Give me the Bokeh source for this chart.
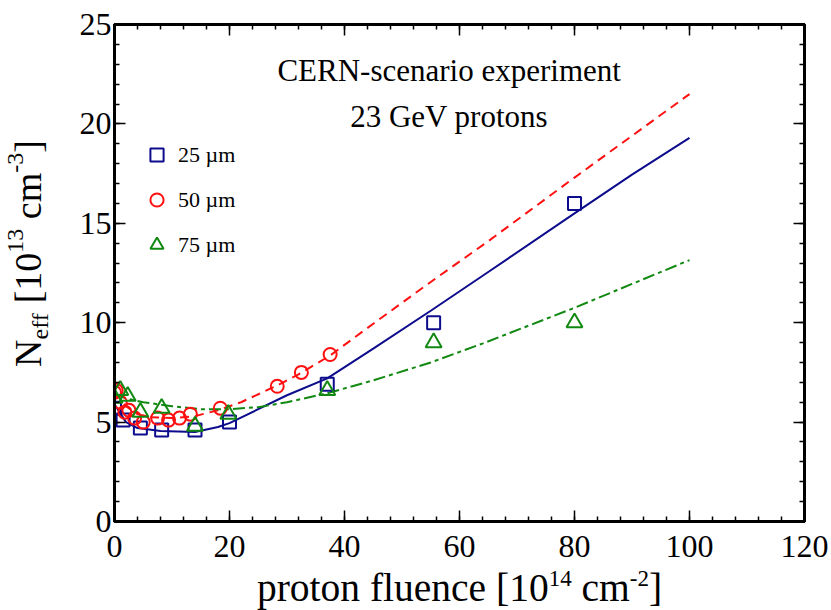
import math
from bokeh.plotting import figure
from bokeh.layouts import row, column
from bokeh.models import (Range1d, LinearAxis, FixedTicker, Label, Legend, LegendItem,
                          CustomJSTickFormatter)
from bokeh.core.properties import value
from bokeh.embed import file_html
from bokeh.resources import INLINE

# ---------------- data ----------------
fluence_25 = [0, 1.5, 4.5, 8.2, 14, 20, 37, 55.5, 80]
neff_25 = [5.7, 5.1, 4.7, 4.6, 4.6, 5.0, 6.9, 10.0, 16.0]

fluence_50 = [0, 0.3, 1, 1.8, 2.5, 3.5, 5, 7.5, 9.4, 11.3, 13.2, 18.4, 28.3, 32.5, 37.5]
neff_50 = [6.5, 6.6, 6.0, 5.5, 5.6, 5.2, 5.0, 5.2, 5.1, 5.2, 5.4, 5.7, 6.8, 7.5, 8.4]

fluence_75 = [0, 1, 2.3, 4.5, 8.2, 14, 19.8, 37, 55.5, 80]
neff_75 = [6.2, 6.6, 6.3, 5.5, 5.7, 4.8, 5.4, 6.6, 9.0, 10.0]

fit_x_25 = [0, 2, 4, 8, 14, 18, 20, 25, 30, 37, 45, 55, 65, 80, 90, 100]
fit_y_25 = [5.9, 5.0, 4.7, 4.55, 4.5, 4.75, 4.95, 5.65, 6.35, 7.2, 8.7, 10.6, 12.55, 15.5, 17.45, 19.3]

fit_x_50 = [0, 2, 4, 6, 10, 14, 18, 22, 28, 32, 37.5, 45, 55, 65, 80, 90, 100]
fit_y_50 = [6.5, 5.8, 5.4, 5.25, 5.2, 5.3, 5.6, 6.0, 6.8, 7.4, 8.35, 9.95, 12.05, 14.1, 17.3, 19.4, 21.5]

fit_x_75 = [0, 2, 5, 10, 15, 20, 25, 30, 37, 45, 55, 64, 80, 90, 100]
fit_y_75 = [6.4, 6.2, 6.0, 5.8, 5.65, 5.65, 5.75, 6.0, 6.45, 7.1, 8.0, 8.95, 10.75, 11.95, 13.15]

x_ticks = [0, 20, 40, 60, 80, 100, 120]
y_ticks = [0, 5, 10, 15, 20, 25]
series_labels = ["25 \u00b5m", "50 \u00b5m", "75 \u00b5m"]

BLUE = "#0c0c8c"
RED = "#ff1010"
GREEN = "#118811"
FONT = "Liberation Serif"

# ---------------- geometry ----------------
PAGE_W, PAGE_H = 831, 610
YL_W = 58                      # strip holding the y-axis title
B_LEFT, B_TOP, B_BOTTOM = 56, 24, 50
FW, FH = 690, 497
MAIN_W = PAGE_W - YL_W
B_RIGHT = MAIN_W - B_LEFT - FW
MAIN_H = B_TOP + FH + B_BOTTOM
OVERLAP = 14                   # x-title strip overlaps the plot's bottom border
XL_H = PAGE_H - MAIN_H + OVERLAP
K_SHIFT = 0.33                 # baseline correction for rendered text (per px of font)
Y_MAX = 25.0

p = figure(width=MAIN_W, height=MAIN_H,
           output_backend="svg", toolbar_location=None,
           x_range=Range1d(0, 120), y_range=Range1d(0, Y_MAX),
           min_border_left=B_LEFT, min_border_right=B_RIGHT,
           min_border_top=B_TOP, min_border_bottom=B_BOTTOM,
           x_axis_type=None, y_axis_type=None)
p.grid.visible = False
p.outline_line_color = "black"
p.outline_line_width = 3
p.background_fill_color = "white"
p.border_fill_color = "white"

blank = CustomJSTickFormatter(code="return ''")
xt = FixedTicker(ticks=x_ticks, minor_ticks=list(range(0, 121, 4)))
yt = FixedTicker(ticks=y_ticks, minor_ticks=list(range(0, 26, 1)))

def style(ax, labels):
    ax.axis_line_width = 3
    ax.axis_line_color = "black"
    ax.major_tick_in = 11
    ax.major_tick_out = 0
    ax.minor_tick_in = 5
    ax.minor_tick_out = 0
    ax.major_tick_line_width = 1.5
    ax.minor_tick_line_width = 1.5
    ax.major_label_text_font = FONT
    ax.major_label_text_font_size = "32px"
    ax.major_label_text_color = "black"
    ax.major_label_text_font_style = "normal"
    if not labels:
        ax.formatter = blank
        ax.major_label_standoff = 0

xb = LinearAxis(ticker=xt); style(xb, True); xb.major_label_standoff = 14
yl = LinearAxis(ticker=yt); style(yl, True); yl.major_label_standoff = 3
xa = LinearAxis(ticker=xt); style(xa, False)
yr = LinearAxis(ticker=yt); style(yr, False)
p.add_layout(xb, "below")
p.add_layout(yl, "left")
p.add_layout(xa, "above")
p.add_layout(yr, "right")

# ---------------- fit curves ----------------
p.line(fit_x_50, fit_y_50, line_color=RED, line_width=2, line_dash="9 6")
p.line(fit_x_25, fit_y_25, line_color=BLUE, line_width=2)
p.line(fit_x_75, fit_y_75, line_color=GREEN, line_width=2, line_dash="12 4 4 4")

# ---------------- data points ----------------
r25 = p.scatter(fluence_25, neff_25, marker="square", size=13, fill_color=None,
                line_color=BLUE, line_width=2)
r50 = p.scatter(fluence_50, neff_50, marker="circle", size=13, fill_color=None,
                line_color=RED, line_width=2)
r75 = p.scatter(fluence_75, neff_75, marker="triangle", size=16, fill_color=None,
                line_color=GREEN, line_width=2)

legend = Legend(items=[LegendItem(label=series_labels[0], renderers=[r25]),
                       LegendItem(label=series_labels[1], renderers=[r50]),
                       LegendItem(label=series_labels[2], renderers=[r75])],
                location=(26, 260), orientation="vertical",
                glyph_width=33, glyph_height=33, label_height=33, spacing=12,
                padding=0, margin=0, label_standoff=5,
                label_text_font=FONT, label_text_font_size="22px",
                label_text_color="black",
                border_line_color=None, background_fill_alpha=0)
p.add_layout(legend, "center")

# annotations inside the frame
unit_y = FH / Y_MAX
p.add_layout(Label(x=58.2, y=22.08 + 12 / unit_y, text="CERN-scenario experiment",
                   text_font=FONT, text_font_size="31px", text_align="center",
                   text_baseline="alphabetic", text_color="black"))
p.add_layout(Label(x=58.2, y=19.77 + 12 / unit_y, text="23 GeV protons",
                   text_font=FONT, text_font_size="31px", text_align="center",
                   text_baseline="alphabetic", text_color="black"))

# ---------------- axis titles (composed with sub/superscripts) ----------------
W = {' ': .25, '[': .333, ']': .333, '-': .333, 'c': .444, 'm': .778, 'N': .722,
     'e': .444, 'f': .333, 'p': .5, 'r': .333, 'o': .5, 't': .278, 'n': .5,
     'u': .5, 'l': .278}
for d in "0123456789":
    W[d] = .5

def tw(s, size):
    return sum(W.get(ch, .5) for ch in s) * size

def strip(w, h, y_range, top=0, bottom=0, fill="white"):
    f = figure(width=w, height=h, output_backend="svg", toolbar_location=None,
               x_range=Range1d(0, w), y_range=y_range,
               x_axis_type=None, y_axis_type=None,
               min_border=0, min_border_left=0, min_border_right=0,
               min_border_top=top, min_border_bottom=bottom)
    f.grid.visible = False
    f.outline_line_color = None
    f.background_fill_color = fill
    f.border_fill_color = fill
    return f

# pieces: (text, font size, raise in px, gap before in px)
# y title strip: N_eff [10^13 cm^-3], reading bottom to top; same vertical frame as plot
YB, YS = 38, 24
yfig = strip(YL_W, MAIN_H, Range1d(0, Y_MAX), top=B_TOP, bottom=B_BOTTOM)
ypieces = [("N", YB, 0, 0), ("eff", YS, -7, 0), ("[10", YB, 0, 0.25 * YB),
           ("13", YS, 17, 0), ("cm", YB, 0, 0.25 * YB), ("-3", YS, 17, 0),
           ("]", YB, 0, 0)]
total = sum(tw(s, f) + g for s, f, _, g in ypieces)
page_y = 253 + total / 2          # page pixel where the title starts (bottom)
for s, f, up, g in ypieces:
    page_y -= g
    yd = (B_TOP + FH - page_y) / unit_y
    yfig.text(x=[40 - up - K_SHIFT * f], y=[yd], text=[s], angle=math.pi / 2,
              text_font=value(FONT), text_font_size=value(f"{f}px"),
              text_align="left", text_baseline="alphabetic", text_color="black")
    page_y -= tw(s, f)

# x title strip: proton fluence [10^14 cm^-2] (transparent, overlapping plot border)
XB, XS = 39.5, 23
xfig = strip(PAGE_W, XL_H, Range1d(0, XL_H), fill=None)
xfig.margin = (-OVERLAP, 0, 0, 0)
xpieces = [("proton fluence", XB, 0, 0), ("[10", XB, 0, 0.25 * XB), ("14", XS, 15, 0),
           ("cm", XB, 0, 0.25 * XB), ("-2", XS, 15, 0), ("]", XB, 0, 0)]
total = sum(tw(s, f) + g for s, f, _, g in xpieces)
pos = YL_W + B_LEFT + FW / 2 - total / 2
for s, f, up, g in xpieces:
    pos += g
    xfig.text(x=[pos], y=[(PAGE_H - 601) + up + K_SHIFT * f], text=[s],
              text_font=value(FONT), text_font_size=value(f"{f}px"),
              text_align="left", text_baseline="alphabetic", text_color="black")
    pos += tw(s, f)

layout = column(row(yfig, p, spacing=0), xfig, spacing=0)
open("out.html", "w").write(file_html(layout, INLINE))
